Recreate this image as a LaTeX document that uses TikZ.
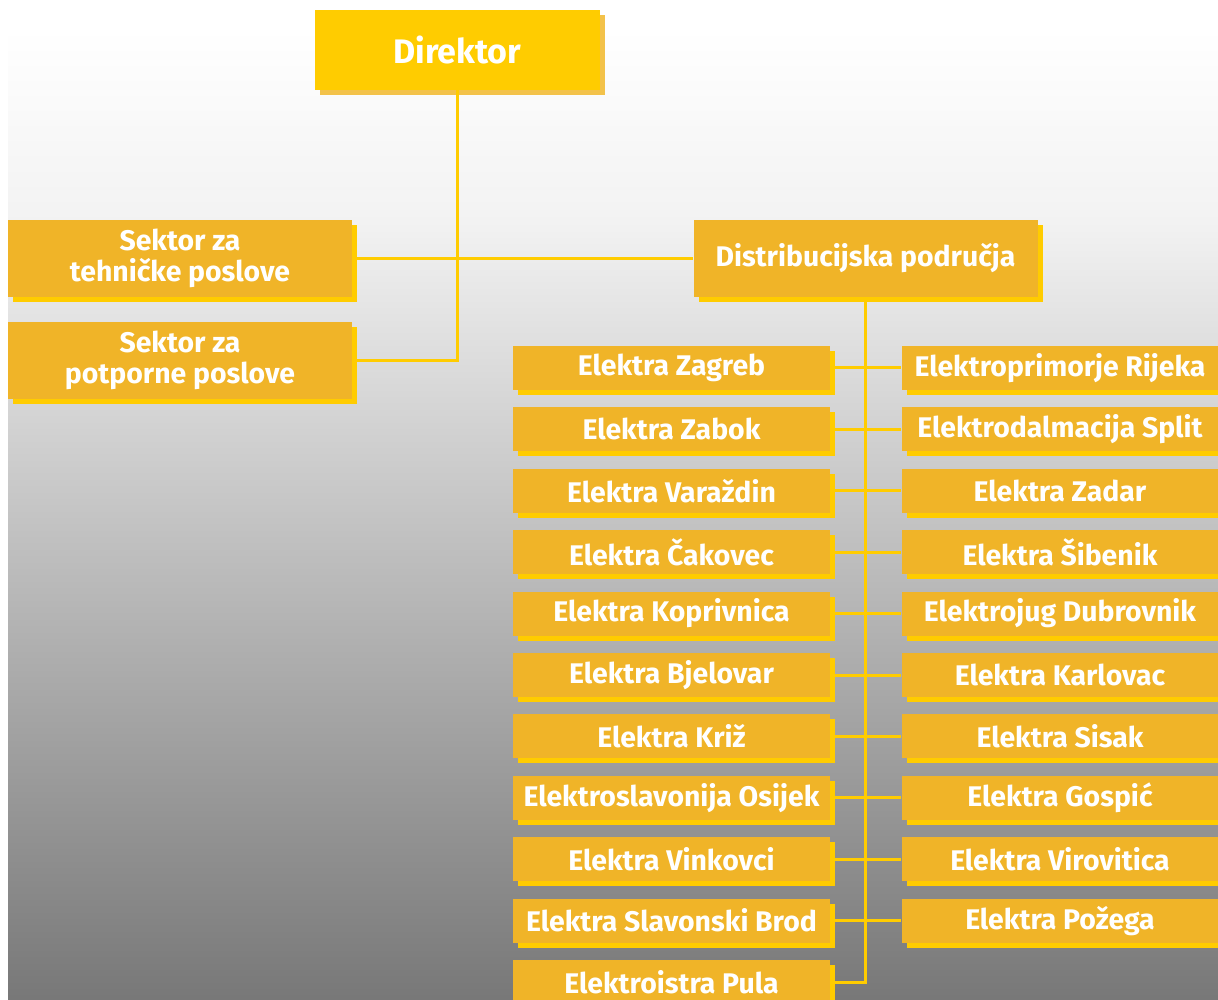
\documentclass[tikz,border=0pt]{standalone}
\usepackage{fontspec}
\setmainfont{Fira Sans}
\usepackage{tikz}
\usetikzlibrary{positioning,shadows}
\definecolor{unitfill}{HTML}{F0B428}
\definecolor{unitshade}{HTML}{FFCC00}
\definecolor{headshade}{HTML}{F3C24A}
\definecolor{wire}{HTML}{FFCC00}

\begin{document}
\begin{tikzpicture}[y=-0.5pt,x=0.5pt,
	unit/.style={fill=unitfill, text=white, font=\bfseries\fontsize{14.2}{15.5}\selectfont, align=center, inner sep=0pt,
		drop shadow={fill=unitshade, opacity=1, shadow xshift=2.5pt, shadow yshift=-2.5pt}},
	sector/.style={unit, minimum width=172pt, minimum height=38.5pt},
	region/.style={unit, minimum width=158.5pt, minimum height=22pt},
	head/.style={unit, fill=unitshade, font=\bfseries\fontsize{17}{18}\selectfont, minimum width=142.5pt, minimum height=40pt,
		drop shadow={fill=headshade, opacity=1, shadow xshift=2.5pt, shadow yshift=-2.5pt}},
	link/.style={draw=wire, line width=1.5pt}]
	\useasboundingbox (0,0) rectangle (1218,999);

	% background
	\shade[top color=white, bottom color=black!5] (8,28) rectangle (1218,220);
	\shade[top color=black!5, bottom color=black!53] (8,220) rectangle (1218,999);

	\node[head] (dir) at (457.5,50) {Direktor};
	\node[sector] (tech) at (180,258.5) {Sektor za\\tehničke poslove};
	\node[sector] (supp) at (180,360.5) {Sektor za\\potporne poslove};
	\node[sector] (dist) at (865.5,258.5) {Distribucijska područja};

	% left column
	\foreach \name [count=\i from 0] in {Elektra Zagreb, Elektra Zabok, Elektra Varaždin, Elektra Čakovec,
		Elektra Koprivnica, Elektra Bjelovar, Elektra Križ, Elektroslavonija Osijek, Elektra Vinkovci,
		Elektra Slavonski Brod, Elektroistra Pula}
		\node[region] (left\i) at (671.5,368+61.4*\i) {\name};

	% right column
	\foreach \name [count=\i from 0] in {Elektroprimorje Rijeka, Elektrodalmacija Split, Elektra Zadar,
		Elektra Šibenik, Elektrojug Dubrovnik, Elektra Karlovac, Elektra Sisak, Elektra Gospić,
		Elektra Virovitica, Elektra Požega}
		\node[region] (right\i) at (1060,368+61.4*\i) {\name};

	\path[link] (dir.south) |- (supp.east);
	\path[link] (tech.east) -- (dist.west);
	\path[link] (dist.south) |- (left10.east);
	\foreach \i in {0,...,9}
		\path[link] (left\i.east) -- (right\i.west);

\end{tikzpicture}
\end{document}
